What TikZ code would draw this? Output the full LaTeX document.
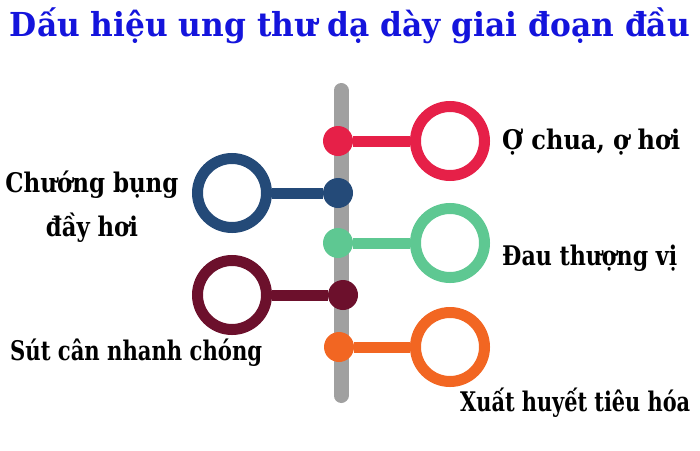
\documentclass[tikz,border=0pt]{standalone}
\usepackage{fontspec}
\setmainfont{DejaVu Serif Condensed}
\definecolor{cRed}{RGB}{230,32,72}
\definecolor{cBlue}{RGB}{36,74,120}
\definecolor{cGreen}{RGB}{94,200,146}
\definecolor{cWine}{RGB}{108,16,44}
\definecolor{cOrange}{RGB}{242,102,34}
\definecolor{cBar}{RGB}{160,160,160}
\definecolor{cTitle}{RGB}{20,20,220}
\newcommand{\fitw}[2]{\resizebox{#1}{\height}{#2}}
\begin{document}
\begin{tikzpicture}[x=1pt,y=-1pt,
  ring/.style={circle,draw=#1,line width=11pt,minimum size=69pt,inner sep=0pt},
  dot/.style={circle,fill=#1,minimum size=30pt,inner sep=0pt},
  link/.style={draw=#1,line width=11pt},
  lbl/.style={font=\fontsize{27}{32}\selectfont\bfseries,text=black,inner sep=0pt}]
\useasboundingbox (0,0) rectangle (700,450);
\node[font=\fontsize{33}{38}\selectfont\bfseries,text=cTitle,inner sep=0pt] (title) at (350,26) {\fitw{680pt}{Dấu hiệu ung thư dạ dày giai đoạn đầu}};
\coordinate (bartop) at (341,90.5);
\coordinate (barbot) at (341,395.5);
\draw[cBar,line width=15pt,line cap=round] (bartop) -- (barbot);
% items
\node[dot=cRed] (d1) at (338,141) {};
\node[ring=cRed] (r1) at (450,141) {};
\node[dot=cBlue] (d2) at (338,193) {};
\node[ring=cBlue] (r2) at (232,193) {};
\node[dot=cGreen] (d3) at (338,243) {};
\node[ring=cGreen] (r3) at (450,243) {};
\node[dot=cWine] (d4) at (343,295) {};
\node[ring=cWine] (r4) at (232,295) {};
\node[dot=cOrange] (d5) at (339,347) {};
\node[ring=cOrange] (r5) at (450,347) {};
\draw[link=cRed] (d1) -- (r1);
\draw[link=cBlue] (d2) -- (r2);
\draw[link=cGreen] (d3) -- (r3);
\draw[link=cWine] (d4) -- (r4);
\draw[link=cOrange] (d5) -- (r5);
% labels
\node[lbl,anchor=west] (t1) at (502,142) {\fitw{178pt}{Ợ chua, ợ hơi}};
\node[lbl,align=center] (t2) at (92,207) {\fitw{173pt}{Chướng bụng}\\[12pt]\fitw{92pt}{đầy hơi}};
\node[lbl,anchor=west] (t3) at (502,258) {\fitw{175pt}{Đau thượng vị}};
\node[lbl,anchor=west] (t4) at (10,353) {\fitw{252pt}{Sút cân nhanh chóng}};
\node[lbl,anchor=west] (t5) at (460,403) {\fitw{230pt}{Xuất huyết tiêu hóa}};
\end{tikzpicture}
\end{document}
